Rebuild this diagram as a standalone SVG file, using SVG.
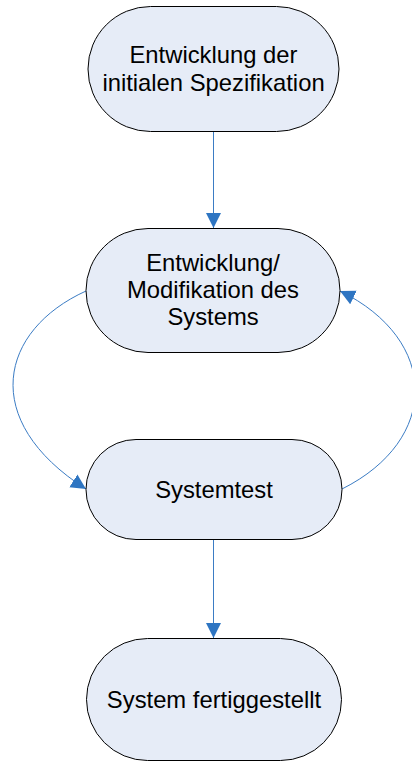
<svg xmlns="http://www.w3.org/2000/svg" width="412" height="762" viewBox="0 0 412 762">
  <defs>
    <style>
      .node rect { fill: #E6ECF7; stroke: #000; stroke-width: 1; }
      .node text { font-family: "Liberation Sans", Arial, sans-serif; font-size: 23.8px; fill: #000; text-anchor: middle; }
      .edge { fill: none; stroke: #3B7CC4; stroke-width: 1; }
    </style>
    <marker id="arrow" markerUnits="userSpaceOnUse" markerWidth="16" markerHeight="16" viewBox="0 0 16 16" refX="15" refY="8" orient="auto">
      <path d="M0,0.5 L15,8 L0,15.5 Z" fill="#2E75C2"/>
    </marker>
  </defs>
  <rect width="412" height="762" fill="#fff"/>

  <g id="connectors">
    <path class="edge" d="M213.5,132 L213.5,228" marker-end="url(#arrow)"/>
    <path class="edge" d="M86,291 C0,330 -22,420 86,489" marker-end="url(#arrow)"/>
    <path class="edge" d="M342,489 C440,440 440,340 340,291" marker-end="url(#arrow)"/>
    <path class="edge" d="M213.5,540 L213.5,638" marker-end="url(#arrow)"/>
  </g>

  <g id="node-spezifikation" class="node">
    <rect x="88" y="6.5" width="251" height="125" rx="62.5" ry="62.5"/>
    <text x="213.5" y="63">Entwicklung der</text>
    <text x="213.5" y="91">initialen Spezifikation</text>
  </g>

  <g id="node-entwicklung" class="node">
    <rect x="86" y="228.5" width="254" height="124" rx="62" ry="62"/>
    <text x="213" y="271">Entwicklung/</text>
    <text x="213" y="298">Modifikation des</text>
    <text x="213" y="325">Systems</text>
  </g>

  <g id="node-systemtest" class="node">
    <rect x="86" y="439.5" width="256" height="100" rx="50" ry="50"/>
    <text x="214" y="498">Systemtest</text>
  </g>

  <g id="node-fertig" class="node">
    <rect x="86.5" y="638.5" width="255" height="122" rx="61" ry="61"/>
    <text x="214" y="708">System fertiggestellt</text>
  </g>
</svg>
